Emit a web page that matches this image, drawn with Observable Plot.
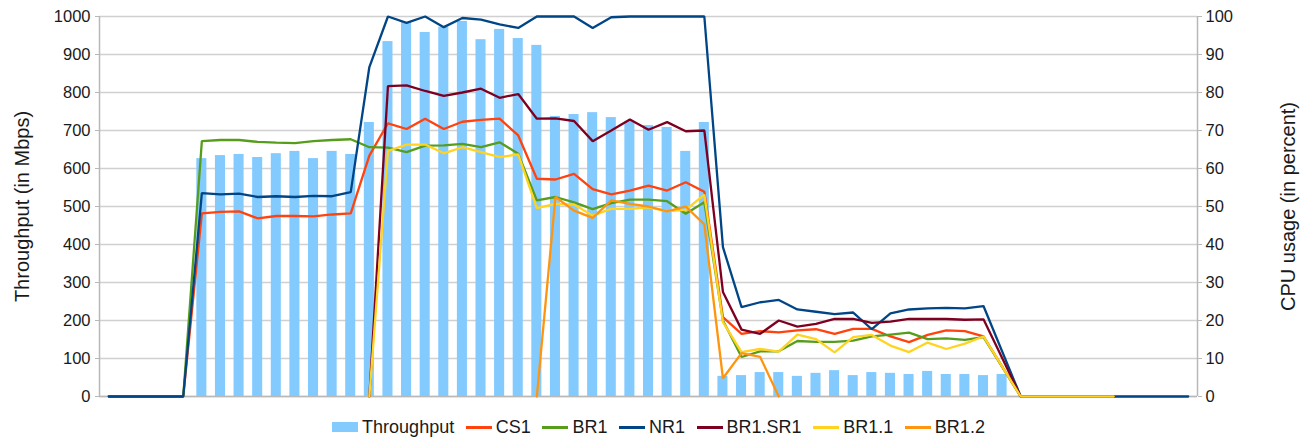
<!DOCTYPE html>
<html><head><meta charset="utf-8">
<script src="https://cdn.jsdelivr.net/npm/d3@7"></script>
<script src="https://cdn.jsdelivr.net/npm/@observablehq/plot@0.6"></script>
<style>
body{margin:0;background:#fff;font-family:"Liberation Sans",Arial,sans-serif;}
#legend{display:flex;justify-content:center;align-items:center;height:28px;margin-top:3px;font-size:18px;color:#1a1a1a;padding-left:11px;}
.item{display:flex;align-items:center;margin:0 5.8px;}
.sw{width:26px;margin-right:4px;}
</style></head><body>
<div id="chart"></div><div id="legend"></div>
<script>
const N = 59;
const ticks = [0,100,200,300,400,500,600,700,800,900,1000];
const _ = null;
const throughput = [_,_,_,_,_,
 626,634,637,629,639,645,626,645,637,721,
 934,984,958,972,987,939,966,942,924,737,
 742,747,734,724,713,708,645,721,53,55,
 63,63,53,61,68,55,63,61,58,66,
 58,58,55,58,
 _,_,_,_,_,_,_,_,_,_];
const cs1 = [0,0,0,0,0,
 48.2,48.6,48.7,46.9,47.5,47.5,47.4,47.9,48.2,63.4,
 71.9,70.4,73.1,70.4,72.3,72.8,73.1,68.7,57.3,57.1,
 58.6,54.6,53.2,54.2,55.5,54.2,56.4,53.9,20.9,16.5,
 17.2,16.9,17.4,17.7,16.5,17.8,17.8,15.8,14.3,16.2,
 17.4,17.2,15.8,_,
 0,0,0,0,0,0,_,_,_,_];
const br1 = [0,0,0,0,0,
 67.2,67.5,67.5,67.0,66.8,66.7,67.2,67.5,67.7,65.6,
 65.5,64.3,66.0,66.1,66.5,65.6,66.9,63.9,51.6,52.5,
 51.1,49.3,50.9,51.8,51.8,51.4,48.1,51.1,20.0,10.4,
 11.9,11.9,14.6,14.4,14.4,14.7,15.8,16.3,16.8,15.1,
 15.3,14.9,15.6,_,
 0,0,0,0,0,0,_,_,_,_];
const nr1 = [0,0,0,0,0,
 53.5,53.2,53.4,52.5,52.7,52.5,52.8,52.7,53.8,86.7,
 100,98.3,100,97.2,99.6,99.2,97.9,97.0,100,100,
 100,97.0,99.8,100,100,100,100,100,39.3,23.5,
 24.8,25.4,22.9,22.3,21.7,22.1,17.7,21.9,22.9,23.2,
 23.3,23.2,23.8,_,
 0,0,0,0,0,0,0,0,0,0];
const br1sr1 = [_,_,_,_,_,
 _,_,_,_,_,_,_,_,_,0,
 81.7,81.9,80.4,79.1,80.0,81.0,78.6,79.6,73.1,73.2,
 72.5,67.2,70.0,72.9,70.2,72.2,69.8,70.0,27.5,17.6,
 16.5,20.0,18.4,19.1,20.4,20.4,19.4,19.7,20.4,20.4,
 20.4,20.2,20.3,_,
 0,0,0,0,0,0,_,_,_,_];
const br11 = [_,_,_,_,_,
 _,_,_,_,_,_,_,_,_,0,
 64.6,66.3,66.3,64.0,65.6,64.3,63.0,63.7,49.6,50.7,
 50.5,47.6,49.4,49.4,49.8,48.8,49.1,53.1,19.6,11.7,
 12.5,11.8,16.3,15.1,11.6,15.6,16.2,13.4,11.7,14.2,
 12.5,13.9,15.8,_,
 0,0,0,0,0,0,_,_,_,_];
const br12 = [_,_,_,_,_,
 _,_,_,_,_,_,_,_,_,_,
 _,_,_,_,_,_,_,_,0,52.5,
 48.9,47.0,51.6,50.7,50.0,48.7,50.0,45.3,4.8,11.4,
 10.4,0,_,_,_,_,_,_,_,_,
 _,_,_,_,
 _,_,_,_,_,_,_,_,_,_];
const seriesNames = ["CS1","BR1","NR1","BR1.SR1","BR1.1","BR1.2"];
const seriesValues = [cs1, br1, nr1, br1sr1, br11, br12];
const seriesColors = ["#ff420e","#579d1c","#004586","#7e0021","#ffd320","#ff950e"];
const barColor = "#83caff";

const bars = throughput.map((v,i)=>({i, v})).filter(d=>d.v!=null);
const lineMarks = seriesNames.map((name,k)=>{
  const rows = seriesValues[k].map((v,i)=>({i, cpu:v})).filter(d=>d.cpu!=null);
  return Plot.line(rows, {x:"i", y:d=>d.cpu*10, stroke:seriesColors[k], strokeWidth:2.3, strokeLinejoin:"miter"});
});

const plot = Plot.plot({
  width:1306, height:410, marginLeft:99, marginRight:109, marginTop:16, marginBottom:14,
  x:{type:"linear", domain:[-0.5, N-0.5], axis:null},
  y:{domain:[0,1000], axis:null},
  style:{fontFamily:"'Liberation Sans', Arial, sans-serif", fontSize:"16.5px", color:"#1a1a1a", background:"#fff"},
  marks:[
    Plot.gridY(ticks, {stroke:"#d0d0d0", strokeOpacity:1, strokeWidth:1.5}),
    Plot.rectY(bars, {x1:d=>d.i-0.27, x2:d=>d.i+0.27, y:"v", fill:barColor}),
    Plot.ruleX([-0.5, N-0.5], {stroke:"#b8b8b8", strokeWidth:1.5}),
    Plot.ruleY([0], {stroke:"#b8b8b8", strokeWidth:1.5}),
    ...lineMarks,
    Plot.axisY(ticks, {anchor:"left", tickSize:4, tickPadding:5, stroke:"#b8b8b8", fill:"#1a1a1a", tickFormat:d=>String(d), label:null, fontSize:16.5}),
    Plot.axisY(ticks, {anchor:"right", tickSize:4, tickPadding:4, stroke:"#b8b8b8", fill:"#1a1a1a", tickFormat:d=>String(d/10), label:null, fontSize:16.5}),
    Plot.text(["Throughput (in Mbps)"], {frameAnchor:"left", textAnchor:"middle", dx:-77, rotate:-90, fontSize:20, fill:"#1a1a1a"}),
    Plot.text(["CPU usage (in percent)"], {frameAnchor:"right", textAnchor:"middle", dx:91, rotate:-90, fontSize:20, fill:"#1a1a1a"})
  ]
});
document.getElementById("chart").appendChild(plot);

const legend = document.getElementById("legend");
const items = [{name:"Throughput", color:barColor, bar:true}].concat(seriesNames.map((n,k)=>({name:n, color:seriesColors[k], bar:false})));
items.forEach(it=>{
  const el = document.createElement("div"); el.className="item";
  const sw = document.createElement("div"); sw.className="sw";
  sw.style.height = it.bar ? "10px" : "3px";
  sw.style.background = it.color;
  const t = document.createElement("span"); t.textContent = it.name;
  el.appendChild(sw); el.appendChild(t); legend.appendChild(el);
});
</script>
</body></html>
